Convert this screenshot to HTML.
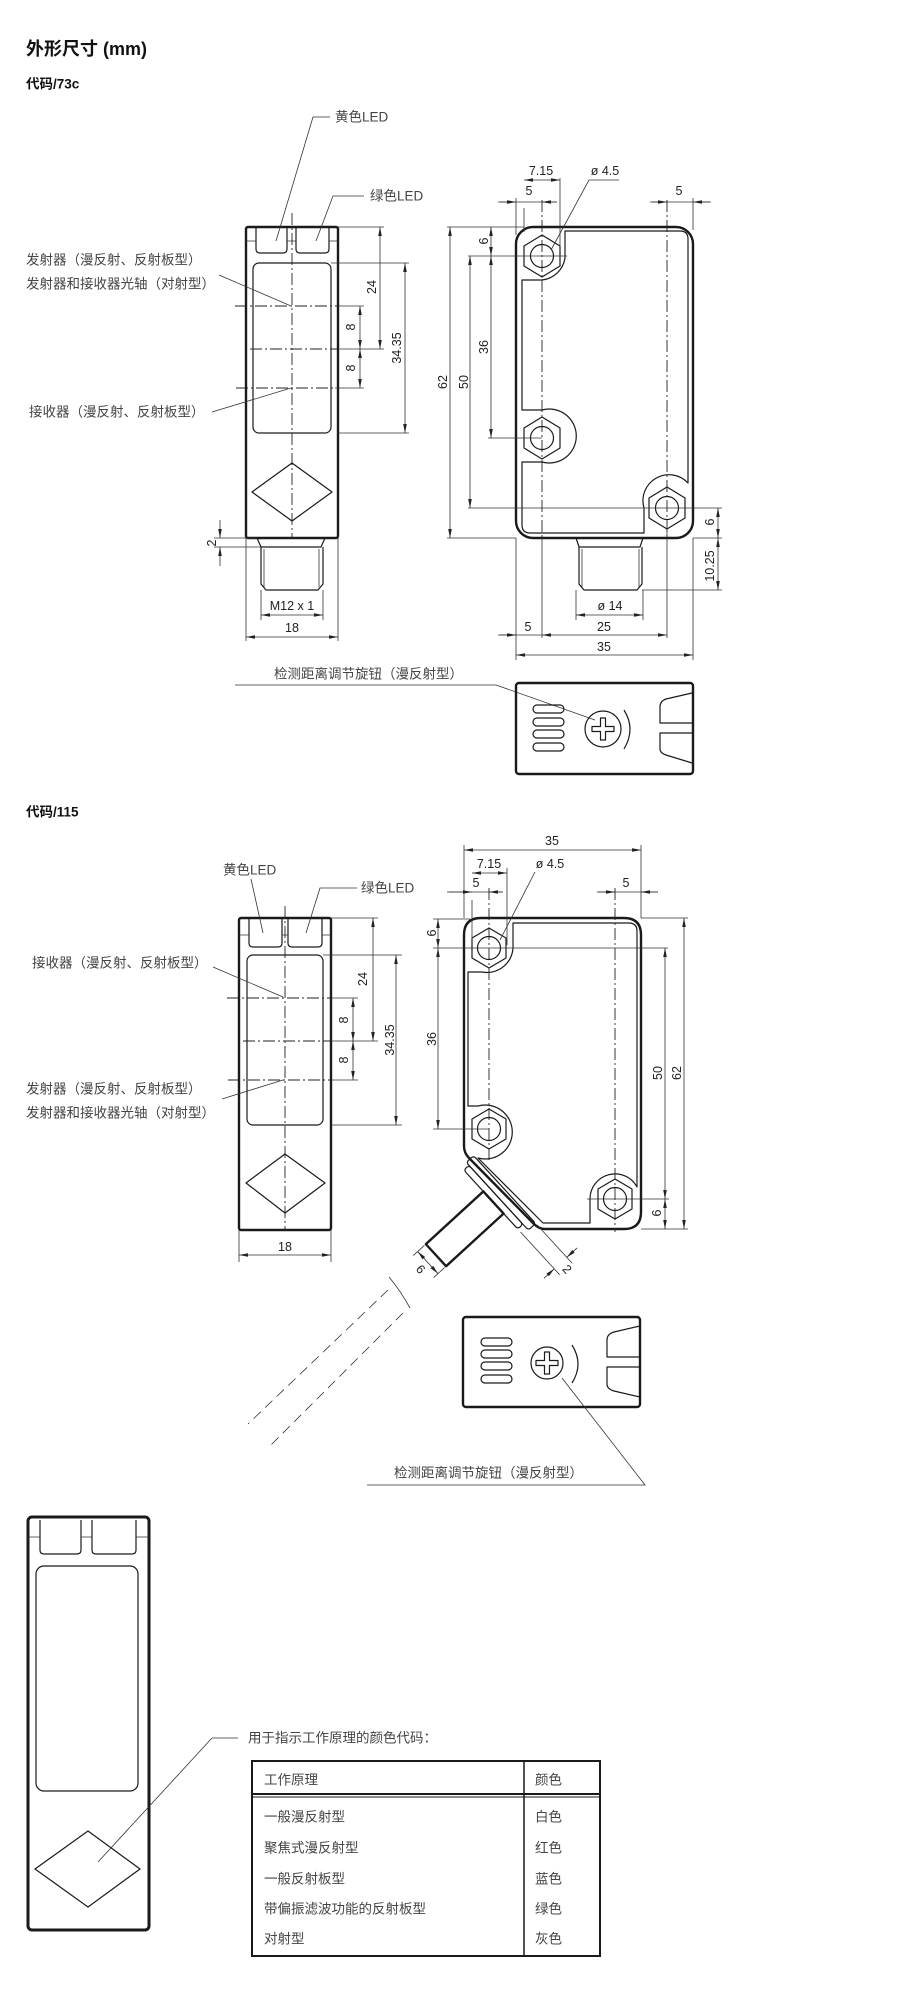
<!DOCTYPE html>
<html><head><meta charset="utf-8">
<style>
html,body{margin:0;padding:0;background:#fff;}
svg{display:block;}
.b{fill:none;stroke:#1a1a1a;stroke-width:2.4;stroke-linejoin:round;}
.t{fill:none;stroke:#1a1a1a;stroke-width:1.2;stroke-linejoin:round;}
.l{fill:none;stroke:#333;stroke-width:0.8;}
.d{fill:none;stroke:#333;stroke-width:0.8;marker-start:url(#m);marker-end:url(#m);}
.e{fill:none;stroke:#333;stroke-width:0.8;marker-end:url(#m);}
.c{fill:none;stroke:#222;stroke-width:0.9;stroke-dasharray:12 3 2 3;}
.n{font-family:"Liberation Sans",sans-serif;font-size:12.5px;fill:#222;text-anchor:middle;dominant-baseline:central;}
.z{font-family:"Liberation Sans","Noto Sans CJK SC",sans-serif;font-size:13.5px;fill:#444;dominant-baseline:central;}
.h{font-family:"Liberation Sans","Noto Sans CJK SC",sans-serif;font-weight:bold;fill:#111;dominant-baseline:central;}
</style></head><body>
<svg width="900" height="1998" viewBox="0 0 900 1998" xmlns="http://www.w3.org/2000/svg">
<defs>
<marker id="m" viewBox="0 0 10 4" refX="10" refY="2" markerWidth="9" markerHeight="3.6" markerUnits="userSpaceOnUse" orient="auto-start-reverse"><path d="M0,0L10,2L0,4z" fill="#222"/></marker>
</defs>

<text class="h" x="26" y="49" font-size="18">外形尺寸 (mm)</text>
<text class="h" x="26" y="84" font-size="13.5">代码/73c</text>

<!-- ===== 73c left view ===== -->
<rect class="b" x="246" y="227" width="92" height="311" rx="2"/>
<path class="t" d="M256,227V249Q256,253 260,253H283Q287,253 287,249V227M296,227V249Q296,253 300,253H325Q329,253 329,249V227"/>
<path class="l" d="M246,241H256M287,241H296M329,241H338"/>
<rect class="t" x="253" y="263" width="78" height="170" rx="6"/>
<line class="c" x1="292" y1="213" x2="292" y2="538"/>
<line class="c" x1="235" y1="306" x2="338" y2="306"/>
<line class="c" x1="250" y1="349" x2="338" y2="349"/>
<line class="c" x1="236" y1="388" x2="335" y2="388"/>
<polygon class="t" points="252,492 292,463 332,492 292,521"/>
<path class="t" d="M257,538L261,547H321L325,538M261,547V584L266,590H318L323,584V547"/>
<path class="l" d="M264,549V587M319,549V587"/>
<path class="l" d="M338,227H384M331,263H409M338,433H409M338,306H364M338,349H384M335,388H364"/>
<line class="d" x1="380" y1="227" x2="380" y2="349"/>
<line class="d" x1="360" y1="306" x2="360" y2="349"/>
<line class="d" x1="360" y1="349" x2="360" y2="388"/>
<line class="d" x1="405" y1="263" x2="405" y2="433"/>
<text class="n" transform="translate(372,287) rotate(-90)">24</text>
<text class="n" transform="translate(351,327) rotate(-90)">8</text>
<text class="n" transform="translate(351,368) rotate(-90)">8</text>
<text class="n" transform="translate(397,348) rotate(-90)" font-size="13.5">34.35</text>
<path class="l" d="M214,538H257M214,547H261"/>
<line class="e" x1="220" y1="520" x2="220" y2="538"/>
<line class="e" x1="220" y1="566" x2="220" y2="547"/>
<text class="n" transform="translate(212,543) rotate(-90)">2</text>
<path class="l" d="M261,590V620M323,590V620M246,538V641M338,538V641"/>
<line class="d" x1="261" y1="615" x2="323" y2="615"/>
<text class="n" x="292" y="606">M12 x 1</text>
<line class="d" x1="246" y1="637" x2="338" y2="637"/>
<text class="n" x="292" y="628">18</text>
<polyline class="l" points="330,117 313,117 276,241"/>
<text class="z" x="335" y="117">黄色LED</text>
<polyline class="l" points="364,196 333,196 316,241"/>
<text class="z" x="370" y="196">绿色LED</text>
<text class="z" x="26" y="260">发射器（漫反射、反射板型）</text>
<text class="z" x="26" y="284">发射器和接收器光轴（对射型）</text>
<line class="l" x1="219" y1="275" x2="291" y2="306"/>
<text class="z" x="29" y="412">接收器（漫反射、反射板型）</text>
<line class="l" x1="212" y1="412" x2="291" y2="388"/>

<!-- ===== 73c right view ===== -->
<rect class="b" x="516" y="227" width="177" height="311" rx="17"/>
<path class="t" d="M565,231H680Q688,231 688,239V483A26,26 0 0 0 644,508V533H530Q522,533 522,525V462H542A27,27 0 1 0 542,410H522V280H542A26,26 0 0 0 565,258Z"/>
<g class="t">
<polygon points="542,235 560,246 560,266 542,277 524,266 524,246"/><circle cx="542" cy="256" r="11.5"/>
<polygon points="542,417 560,428 560,448 542,459 524,448 524,428"/><circle cx="542" cy="438" r="11.5"/>
<polygon points="667,487 685,498 685,518 667,529 649,518 649,498"/><circle cx="667" cy="508" r="11.5"/>
</g>
<line class="c" x1="542" y1="200" x2="542" y2="538"/>
<line class="c" x1="667" y1="200" x2="667" y2="538"/>
<path class="t" d="M576,538L579,547H640L643,538M579,547V584L584,590H637L642,584V547"/>
<path class="l" d="M582,549V587M639,549V587"/>
<path class="l" d="M447,227H524M468,256H567M488,438H542M468,508H667M447,538H516"/>
<line class="d" x1="450" y1="227" x2="450" y2="538"/>
<line class="d" x1="470" y1="256" x2="470" y2="508"/>
<line class="d" x1="491" y1="227" x2="491" y2="256"/>
<line class="d" x1="491" y1="256" x2="491" y2="438"/>
<text class="n" transform="translate(443,382) rotate(-90)">62</text>
<text class="n" transform="translate(464,382) rotate(-90)">50</text>
<text class="n" transform="translate(484,347) rotate(-90)">36</text>
<text class="n" transform="translate(484,241) rotate(-90)">6</text>
<path class="l" d="M667,508H722M693,538H722M642,590H722"/>
<line class="d" x1="718" y1="508" x2="718" y2="538"/>
<line class="d" x1="718" y1="538" x2="718" y2="590"/>
<text class="n" transform="translate(710,522) rotate(-90)">6</text>
<text class="n" transform="translate(710,566) rotate(-90)">10.25</text>
<path class="l" d="M516,198V235M524,208V232M560,178V247M693,198V230"/>
<line class="d" x1="524" y1="180" x2="560" y2="180"/>
<text class="n" x="541" y="171">7.15</text>
<line class="l" x1="498" y1="202" x2="557" y2="202"/>
<line class="e" x1="500" y1="202" x2="516" y2="202"/>
<line class="e" x1="557" y1="202" x2="542" y2="202"/>
<text class="n" x="529" y="191">5</text>
<line class="l" x1="650" y1="202" x2="711" y2="202"/>
<line class="e" x1="652" y1="202" x2="667" y2="202"/>
<line class="e" x1="710" y1="202" x2="693" y2="202"/>
<text class="n" x="679" y="191">5</text>
<text class="n" x="605" y="171">ø 4.5</text>
<polyline class="l" points="619,180 589,180 551,250"/>
<path class="l" d="M516,538V660M542,538V638M667,530V638M693,538V660M576,590V620M643,590V620"/>
<line class="d" x1="576" y1="615" x2="643" y2="615"/>
<text class="n" x="610" y="606">ø 14</text>
<line class="l" x1="498" y1="635" x2="542" y2="635"/>
<line class="e" x1="500" y1="635" x2="516" y2="635"/>
<line class="d" x1="542" y1="635" x2="667" y2="635"/>
<text class="n" x="528" y="627">5</text>
<text class="n" x="604" y="627">25</text>
<line class="d" x1="516" y1="655" x2="693" y2="655"/>
<text class="n" x="604" y="647">35</text>

<text class="z" x="274" y="674">检测距离调节旋钮（漫反射型）</text>
<polyline class="l" points="235,685 496,685 595,720"/>
<rect class="b" x="516" y="683" width="177" height="91" rx="3"/>
<g class="t">
<rect x="533" y="705" width="31" height="8" rx="4"/><rect x="533" y="718" width="31" height="8" rx="4"/>
<rect x="533" y="730" width="31" height="8" rx="4"/><rect x="533" y="743" width="31" height="8" rx="4"/>
<circle cx="603" cy="729" r="18"/>
<path d="M600.5,718H605.5V726.5H614V731.5H605.5V740H600.5V731.5H592V726.5H600.5Z"/>
<path d="M624,710Q636,729 624,749"/>
<path d="M692,693L666,699Q660,701 660,707V723H692M692,733H660V749Q660,753 666,755L692,763"/>
</g>

<!-- ===== 115 ===== -->
<text class="h" x="26" y="812" font-size="13.5">代码/115</text>
<rect class="b" x="239" y="918" width="92" height="312" rx="2"/>
<path class="t" d="M249,918V943Q249,947 253,947H278Q282,947 282,943V918M288,918V943Q288,947 292,947H318Q322,947 322,943V918"/>
<path class="l" d="M239,935H249M282,935H288M322,935H331"/>
<rect class="t" x="247" y="955" width="76" height="170" rx="6"/>
<line class="c" x1="285" y1="906" x2="285" y2="1230"/>
<line class="c" x1="227" y1="998" x2="331" y2="998"/>
<line class="c" x1="243" y1="1041" x2="331" y2="1041"/>
<line class="c" x1="228" y1="1080" x2="331" y2="1080"/>
<polygon class="t" points="246,1183 285,1154 325,1183 285,1213"/>
<path class="l" d="M331,918H378M323,955H402M331,1125H402M331,998H358M331,1041H378M331,1080H358"/>
<line class="d" x1="373" y1="918" x2="373" y2="1041"/>
<line class="d" x1="353" y1="998" x2="353" y2="1041"/>
<line class="d" x1="353" y1="1041" x2="353" y2="1080"/>
<line class="d" x1="396" y1="955" x2="396" y2="1125"/>
<text class="n" transform="translate(363,979) rotate(-90)">24</text>
<text class="n" transform="translate(344,1020) rotate(-90)">8</text>
<text class="n" transform="translate(344,1060) rotate(-90)">8</text>
<text class="n" transform="translate(390,1040) rotate(-90)" font-size="13.5">34.35</text>
<path class="l" d="M239,1230V1262M331,1230V1262"/>
<line class="d" x1="239" y1="1255" x2="331" y2="1255"/>
<text class="n" x="285" y="1247">18</text>
<text class="z" x="223" y="870">黄色LED</text>
<line class="l" x1="251" y1="879" x2="263" y2="933"/>
<polyline class="l" points="357,888 320,888 306,933"/>
<text class="z" x="361" y="888">绿色LED</text>
<text class="z" x="32" y="963">接收器（漫反射、反射板型）</text>
<line class="l" x1="213" y1="967" x2="283" y2="997"/>
<text class="z" x="26" y="1089">发射器（漫反射、反射板型）</text>
<text class="z" x="26" y="1113">发射器和接收器光轴（对射型）</text>
<line class="l" x1="222" y1="1099" x2="283" y2="1080"/>

<path class="b" d="M481,918H624Q641,918 641,935V1212Q641,1229 624,1229H545Q539,1229 534,1224L469,1158Q464,1153 464,1146V935Q464,918 481,918Z"/>
<path class="t" d="M513,923H629Q637,923 637,931V1187A25,25 0 0 0 590,1199V1223H543L478,1158A27,27 0 1 0 478,1106H468V972H482A26,26 0 0 0 513,945Z"/>
<g class="t">
<polygon points="489,928 506,938 506,958 489,968 472,958 472,938"/><circle cx="489" cy="948" r="11.5"/>
<polygon points="489,1109 506,1119 506,1139 489,1149 472,1139 472,1119"/><circle cx="489" cy="1129" r="11.5"/>
<polygon points="615,1179 632,1189 632,1209 615,1219 598,1209 598,1189"/><circle cx="615" cy="1199" r="11.5"/>
</g>
<line class="c" x1="489" y1="888" x2="489" y2="1160"/>
<line class="c" x1="615" y1="888" x2="615" y2="1232"/>
<g transform="translate(506,1191) rotate(47.5)">
<rect class="t" x="-48" y="0" width="92" height="10" rx="3"/>
<rect class="t" x="-44" y="10" width="80" height="7" rx="3"/>
<rect class="b" x="-15" y="17" width="30" height="78"/>
<path class="l" d="M-15,97V112M15,97V112M46,0H98M40,17H98"/>
<line class="d" x1="-15" y1="106" x2="15" y2="106"/>
<line class="e" x1="90" y1="-14" x2="90" y2="0"/>
<line class="e" x1="90" y1="31" x2="90" y2="17"/>
<text class="n" x="0" y="116" transform="rotate(0)">6</text>
<text class="n" x="99" y="8">2</text>
</g>
<path class="l" d="M389,1277Q400,1290 410,1308"/>
<line class="l" x1="388" y1="1290" x2="248" y2="1424" stroke-dasharray="10 6"/>
<line class="l" x1="403" y1="1313" x2="268" y2="1448" stroke-dasharray="10 6"/>
<path class="l" d="M464,918V845M641,918V845M472,900V940M507,868V945"/>
<line class="d" x1="464" y1="850" x2="641" y2="850"/>
<text class="n" x="552" y="841">35</text>
<line class="d" x1="472" y1="873" x2="507" y2="873"/>
<text class="n" x="489" y="864">7.15</text>
<line class="l" x1="447" y1="892" x2="503" y2="892"/>
<line class="e" x1="449" y1="892" x2="472" y2="892"/>
<line class="e" x1="503" y1="892" x2="489" y2="892"/>
<text class="n" x="476" y="883">5</text>
<line class="l" x1="597" y1="892" x2="658" y2="892"/>
<line class="e" x1="598" y1="892" x2="615" y2="892"/>
<line class="e" x1="658" y1="892" x2="641" y2="892"/>
<text class="n" x="626" y="883">5</text>
<text class="n" x="550" y="864">ø 4.5</text>
<line class="l" x1="535" y1="872" x2="500" y2="940"/>
<path class="l" d="M433,919H470M433,948H668M433,1129H489M587,1199H669M641,1229H688M641,918H688"/>
<line class="d" x1="438" y1="919" x2="438" y2="948"/>
<line class="d" x1="438" y1="948" x2="438" y2="1129"/>
<line class="d" x1="665" y1="948" x2="665" y2="1199"/>
<line class="d" x1="665" y1="1199" x2="665" y2="1229"/>
<line class="d" x1="684" y1="918" x2="684" y2="1229"/>
<text class="n" transform="translate(432,933) rotate(-90)">6</text>
<text class="n" transform="translate(432,1039) rotate(-90)">36</text>
<text class="n" transform="translate(658,1073) rotate(-90)">50</text>
<text class="n" transform="translate(677,1073) rotate(-90)">62</text>
<text class="n" transform="translate(657,1213) rotate(-90)">6</text>

<rect class="b" x="463" y="1317" width="177" height="90" rx="3"/>
<g class="t">
<rect x="481" y="1338" width="31" height="8" rx="4"/><rect x="481" y="1350" width="31" height="8" rx="4"/>
<rect x="481" y="1362" width="31" height="8" rx="4"/><rect x="481" y="1375" width="31" height="8" rx="4"/>
<circle cx="547" cy="1363" r="16"/>
<path d="M544.5,1352H549.5V1360.5H558V1365.5H549.5V1374H544.5V1365.5H536V1360.5H544.5Z"/>
<path d="M572,1345Q584,1364 572,1383"/>
<path d="M640,1326L614,1332Q607,1334 607,1340V1357H640M640,1367H607V1384Q607,1389 614,1391L640,1397"/>
</g>
<text class="z" x="394" y="1473">检测距离调节旋钮（漫反射型）</text>
<polyline class="l" points="367,1485 645,1485 562,1378"/>

<rect x="28" y="1517" width="121" height="413" rx="4" fill="none" stroke="#1a1a1a" stroke-width="3"/>
<path class="t" d="M40,1520V1550Q40,1554 44,1554H77Q81,1554 81,1550V1520M92,1520V1550Q92,1554 96,1554H132Q136,1554 136,1550V1520"/>
<path class="l" d="M28,1537H40M81,1537H92M136,1537H149"/>
<rect class="t" x="36" y="1566" width="102" height="225" rx="8"/>
<polygon class="t" points="35,1869 88,1831 140,1869 88,1907"/>
<polyline class="l" points="98,1862 212,1738 238,1738"/>
<text class="z" x="248" y="1738">用于指示工作原理的颜色代码：</text>
<rect x="252" y="1761" width="348" height="195" fill="none" stroke="#1a1a1a" stroke-width="2"/>
<line x1="524" y1="1761" x2="524" y2="1956" stroke="#1a1a1a" stroke-width="1.5"/>
<line x1="252" y1="1794" x2="600" y2="1794" stroke="#1a1a1a" stroke-width="2"/>
<line x1="252" y1="1797" x2="600" y2="1797" stroke="#1a1a1a" stroke-width="1"/>
<g class="z">
<text x="264" y="1780">工作原理</text><text x="535" y="1780">颜色</text>
<text x="264" y="1817">一般漫反射型</text><text x="535" y="1817">白色</text>
<text x="264" y="1848">聚焦式漫反射型</text><text x="535" y="1848">红色</text>
<text x="264" y="1879">一般反射板型</text><text x="535" y="1879">蓝色</text>
<text x="264" y="1909">带偏振滤波功能的反射板型</text><text x="535" y="1909">绿色</text>
<text x="264" y="1939">对射型</text><text x="535" y="1939">灰色</text>
</g>
</svg>
</body></html>
